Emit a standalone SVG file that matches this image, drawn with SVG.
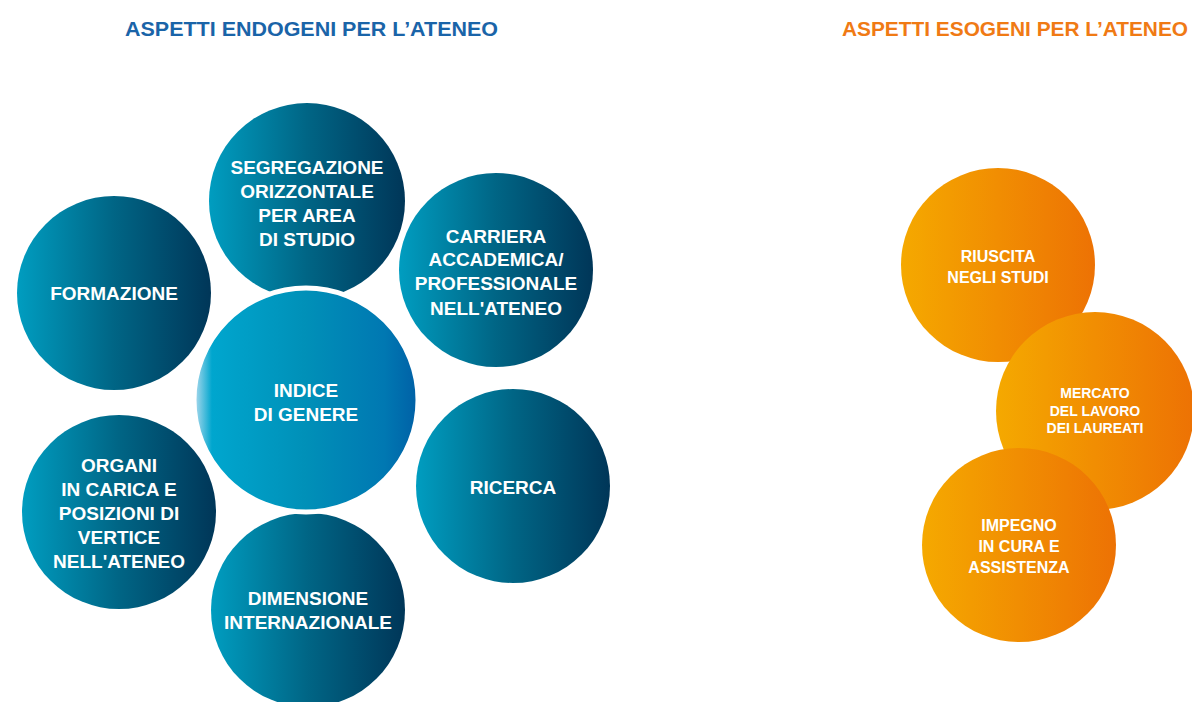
<svg xmlns="http://www.w3.org/2000/svg" width="1192" height="702" viewBox="0 0 1192 702">
<defs>
<linearGradient id="gBlue" x1="0" y1="0" x2="1" y2="0">
<stop offset="0" stop-color="#009dc0"/>
<stop offset="0.5" stop-color="#006585"/>
<stop offset="1" stop-color="#003658"/>
</linearGradient>
<linearGradient id="gCenter" x1="0" y1="0" x2="1" y2="0">
<stop offset="0" stop-color="#b4dcef"/>
<stop offset="0.08" stop-color="#00a6ce"/>
<stop offset="0.5" stop-color="#0090b8"/>
<stop offset="0.85" stop-color="#0078b2"/>
<stop offset="1" stop-color="#0060a6"/>
</linearGradient>
<linearGradient id="gOrange" x1="0" y1="0" x2="1" y2="0">
<stop offset="0" stop-color="#f5a900"/>
<stop offset="1" stop-color="#ed7204"/>
</linearGradient>
<style>
.t{font-family:"Liberation Sans",Arial,sans-serif;font-weight:bold;text-anchor:middle;fill:#ffffff}
.b{font-size:19px}
.o1{font-size:16px}
.o2{font-size:14px}
.title{font-family:"Liberation Sans",Arial,sans-serif;font-weight:bold;font-size:21px}
</style>
</defs>
<rect width="1192" height="702" fill="#ffffff"/>
<text class="title" x="125" y="36" fill="#1a64a8" textLength="373" lengthAdjust="spacingAndGlyphs">ASPETTI ENDOGENI PER L’ATENEO</text>
<text class="title" x="842" y="36" fill="#f07a14" textLength="346" lengthAdjust="spacingAndGlyphs">ASPETTI ESOGENI PER L’ATENEO</text>
<g id="connectors"></g>
<g id="formazione">
<circle cx="114" cy="293" r="97" fill="url(#gBlue)"/>
<text class="t b" x="114" y="300">FORMAZIONE</text>
</g>
<g id="segregazione">
<circle cx="307" cy="201" r="98" fill="url(#gBlue)"/>
<text class="t b" x="307" y="174">SEGREGAZIONE</text>
<text class="t b" x="307" y="198">ORIZZONTALE</text>
<text class="t b" x="307" y="222">PER AREA</text>
<text class="t b" x="307" y="246">DI STUDIO</text>
</g>
<g id="carriera">
<circle cx="496" cy="270" r="97" fill="url(#gBlue)"/>
<text class="t b" x="496" y="243">CARRIERA</text>
<text class="t b" x="496" y="266">ACCADEMICA/</text>
<text class="t b" x="496" y="290">PROFESSIONALE</text>
<text class="t b" x="496" y="315">NELL'ATENEO</text>
</g>
<g id="ricerca">
<circle cx="513" cy="486" r="97" fill="url(#gBlue)"/>
<text class="t b" x="513" y="494">RICERCA</text>
</g>
<g id="organi">
<circle cx="119" cy="512" r="97" fill="url(#gBlue)"/>
<text class="t b" x="119" y="472">ORGANI</text>
<text class="t b" x="119" y="496">IN CARICA E</text>
<text class="t b" x="119" y="520">POSIZIONI DI</text>
<text class="t b" x="119" y="544">VERTICE</text>
<text class="t b" x="119" y="568">NELL'ATENEO</text>
</g>
<g id="dimensione">
<circle cx="308" cy="610" r="97" fill="url(#gBlue)"/>
<text class="t b" x="308" y="605">DIMENSIONE</text>
<text class="t b" x="308" y="629">INTERNAZIONALE</text>
</g>
<g id="indice">
<circle cx="306" cy="400" r="112" fill="url(#gCenter)" stroke="#ffffff" stroke-width="5"/>
<text class="t b" x="306" y="397">INDICE</text>
<text class="t b" x="306" y="421">DI GENERE</text>
</g>
<g id="riuscita">
<circle cx="998" cy="265" r="97" fill="url(#gOrange)"/>
<text class="t o1" x="998" y="262">RIUSCITA</text>
<text class="t o1" x="998" y="283">NEGLI STUDI</text>
</g>
<g id="mercato">
<circle cx="1095" cy="411" r="99" fill="url(#gOrange)"/>
<text class="t o2" x="1095" y="398">MERCATO</text>
<text class="t o2" x="1095" y="416">DEL LAVORO</text>
<text class="t o2" x="1095" y="433">DEI LAUREATI</text>
</g>
<g id="impegno">
<circle cx="1019" cy="545" r="97" fill="url(#gOrange)"/>
<text class="t o1" x="1019" y="531">IMPEGNO</text>
<text class="t o1" x="1019" y="552">IN CURA E</text>
<text class="t o1" x="1019" y="573">ASSISTENZA</text>
</g>
</svg>
